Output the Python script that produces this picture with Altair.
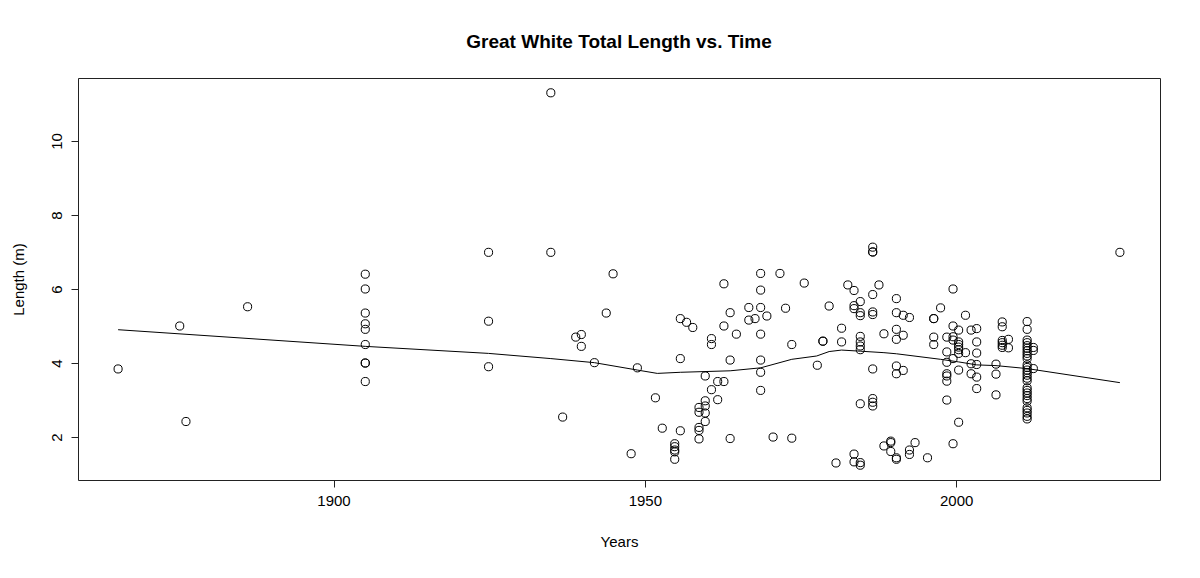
import altair as alt
import pandas as pd

years = [
    1865.4, 1875.3, 1876.3, 1886.2,
    1905.1, 1905.1, 1905.1, 1905.1, 1905.1, 1905.1, 1905.1, 1905.1, 1905.1,
    1924.9, 1924.9, 1924.9,
    1934.9, 1934.9, 1936.8, 1938.9, 1939.8, 1939.8, 1941.9, 1943.8, 1944.9,
    1947.8, 1948.8,
    1951.7, 1952.8,
    1954.8, 1954.8, 1954.8, 1954.8, 1954.8,
    1955.7, 1955.7, 1955.7, 1956.7, 1957.7,
    1958.7, 1958.7, 1958.7, 1958.7, 1958.7,
    1959.7, 1959.7, 1959.7, 1959.7, 1959.7,
    1960.7, 1960.7, 1960.7, 1961.7, 1961.7,
    1962.7, 1962.7, 1962.7, 1963.7, 1963.7, 1963.7, 1964.7,
    1966.7, 1966.7, 1967.7,
    1968.6, 1968.6, 1968.6, 1968.6, 1968.6, 1968.6, 1968.6,
    1969.6, 1970.6, 1971.7, 1972.6, 1973.6, 1973.6, 1975.6, 1977.7,
    1978.6, 1978.6, 1979.6, 1980.7, 1981.6, 1981.6, 1982.6,
    1983.6, 1983.6, 1983.6, 1983.6, 1983.6,
    1984.6, 1984.6, 1984.6, 1984.6, 1984.6, 1984.6, 1984.6, 1984.6, 1984.6, 1984.6,
    1986.6, 1986.6, 1986.6, 1986.6, 1986.6, 1986.6, 1986.6, 1986.6, 1986.6, 1986.6,
    1987.6, 1988.4, 1988.4, 1989.5, 1989.5, 1989.5,
    1990.4, 1990.4, 1990.4, 1990.4, 1990.4, 1990.4, 1990.4, 1990.4,
    1991.5, 1991.5, 1991.5, 1992.5, 1992.5, 1992.5, 1993.4, 1995.4,
    1996.4, 1996.4, 1996.4, 1996.4, 1997.5,
    1998.5, 1998.5, 1998.5, 1998.5, 1998.5, 1998.5, 1998.5,
    1999.5, 1999.5, 1999.5, 1999.5, 1999.5, 1999.5,
    2000.4, 2000.4, 2000.4, 2000.4, 2000.4, 2000.4, 2000.4, 2000.4,
    2001.5, 2001.5, 2002.4, 2002.4, 2002.4,
    2003.3, 2003.3, 2003.3, 2003.3, 2003.3, 2003.3,
    2006.4, 2006.4, 2006.4,
    2007.4, 2007.4, 2007.4, 2007.4, 2007.4, 2007.4,
    2008.4, 2008.4,
    2011.4, 2011.4, 2011.4, 2011.4, 2011.4, 2011.4, 2011.4, 2011.4, 2011.4, 2011.4,
    2011.4, 2011.4, 2011.4, 2011.4, 2011.4, 2011.4, 2011.4, 2011.4, 2011.4, 2011.4,
    2011.4, 2011.4, 2011.4, 2011.4, 2011.4, 2011.4, 2011.4, 2011.4,
    2012.4, 2012.4, 2012.4,
    2026.3,
]
lengths = [
    3.84, 5.00, 2.42, 5.52,
    6.40, 6.00, 5.35, 5.06, 4.91, 4.50, 4.00, 4.00, 3.50,
    6.99, 5.13, 3.90,
    11.30, 6.99, 2.54, 4.70, 4.77, 4.45, 4.01, 5.35, 6.41,
    1.55, 3.87,
    3.06, 2.24,
    1.82, 1.74, 1.65, 1.60, 1.40,
    5.20, 4.12, 2.17, 5.10, 4.96,
    2.80, 2.67, 2.26, 2.18, 1.95,
    3.65, 2.98, 2.84, 2.65, 2.42,
    4.66, 4.50, 3.28, 3.50, 3.01,
    6.14, 5.00, 3.50, 5.36, 4.08, 1.96, 4.78,
    5.50, 5.16, 5.20,
    6.42, 5.97, 5.50, 4.78, 4.08, 3.75, 3.26,
    5.27, 2.00, 6.42, 5.48, 4.50, 1.97, 6.16, 3.94,
    4.59, 4.59, 5.54, 1.30, 4.94, 4.57, 6.11,
    5.96, 5.55, 5.47, 1.54, 1.33,
    5.66, 5.36, 5.28, 4.72, 4.57, 4.46, 4.36, 2.90, 1.31, 1.24,
    7.13, 7.00, 7.00, 5.85, 5.38, 5.31, 3.84, 3.04, 2.94, 2.84,
    6.11, 4.79, 1.76, 1.89, 1.85, 1.61,
    5.74, 5.36, 4.91, 4.64, 3.92, 3.71, 1.44, 1.40,
    5.29, 4.75, 3.80, 5.23, 1.65, 1.53, 1.85, 1.44,
    5.20, 5.20, 4.70, 4.50, 5.49,
    4.70, 4.30, 4.02, 3.71, 3.65, 3.51, 3.00,
    6.00, 5.00, 4.71, 4.62, 4.12, 1.82,
    4.89, 4.57, 4.50, 4.43, 4.36, 4.26, 3.81, 2.40,
    5.29, 4.28, 4.89, 3.98, 3.71,
    4.93, 4.57, 4.27, 3.96, 3.62, 3.31,
    3.97, 3.70, 3.14,
    5.11, 4.98, 4.61, 4.55, 4.48, 4.42,
    4.64, 4.41,
    5.12, 4.91, 4.62, 4.55, 4.47, 4.40, 4.33, 4.26, 4.19, 4.12,
    3.95, 3.88, 3.81, 3.74, 3.67, 3.59, 3.52, 3.33, 3.26, 3.19,
    3.12, 3.04, 2.97, 2.79, 2.72, 2.65, 2.56, 2.49,
    4.42, 4.34, 3.85,
    6.99,
]

# Smoothed (lowess) curve
smooth_years = [1865.4, 1905.1, 1924.9, 1934.9, 1941.9, 1948.8, 1952.0, 1955.7,
                1963.7, 1968.6, 1973.6, 1977.6, 1979.6, 1981.6, 1984.6, 1988.4,
                1990.4, 1997.5, 2000.4, 2003.3, 2006.4, 2011.4, 2026.3]
smooth_lengths = [4.90, 4.45, 4.26, 4.12, 4.01, 3.81, 3.72, 3.75,
                  3.79, 3.87, 4.10, 4.19, 4.31, 4.35, 4.32, 4.28,
                  4.25, 4.10, 4.03, 3.95, 3.93, 3.85, 3.47]

x_ticks = [1900, 1950, 2000]
y_ticks = [2, 4, 6, 8, 10]

FONT = "Liberation Sans"

pts = pd.DataFrame({"Years": years, "Length": lengths})
smooth = pd.DataFrame({"Years": smooth_years, "Length": smooth_lengths})

xscale = alt.Scale(domain=[1858.96, 2032.74], nice=False, zero=False)
yscale = alt.Scale(domain=[0.84, 11.70], nice=False, zero=False)

xaxis = alt.Axis(values=x_ticks, title="Years", format="d", labelPadding=6,
                 titleY=61, titleBaseline="middle")
yaxis = alt.Axis(values=y_ticks, title="Length (m)", labelAngle=-90, labelPadding=7,
                 titleX=-60, titleY=201, titleBaseline="middle", titleAlign="center")

points = alt.Chart(pts).mark_point(
    shape="circle", filled=False, color="black", strokeWidth=1, size=66, opacity=1
).encode(
    x=alt.X("Years:Q", scale=xscale, axis=xaxis),
    y=alt.Y("Length:Q", scale=yscale, axis=yaxis),
)

line = alt.Chart(smooth).mark_line(color="black", strokeWidth=1).encode(
    x=alt.X("Years:Q", scale=xscale),
    y=alt.Y("Length:Q", scale=yscale),
    order="Years:Q",
)

chart = alt.layer(points, line).properties(
    width=1082,
    height=402,
    title=alt.TitleParams(
        "Great White Total Length vs. Time",
        font=FONT, fontSize=19, fontWeight="bold", color="black",
        anchor="middle", baseline="alphabetic", offset=11,
    ),
    autosize=alt.AutoSizeParams(type="none"),
    padding={"left": 70, "top": 70, "right": 24, "bottom": 90},
    background="white",
).configure_view(
    stroke="#222222", strokeWidth=1
).configure_axis(
    grid=False, domain=False, tickColor="#222222", tickSize=7, tickWidth=1,
    labelFont=FONT, labelFontSize=15, labelColor="black",
    titleFont=FONT, titleFontSize=15, titleFontWeight="normal", titleColor="black",
)

chart.save("out.html", embed_options={"renderer": "svg", "actions": False})
